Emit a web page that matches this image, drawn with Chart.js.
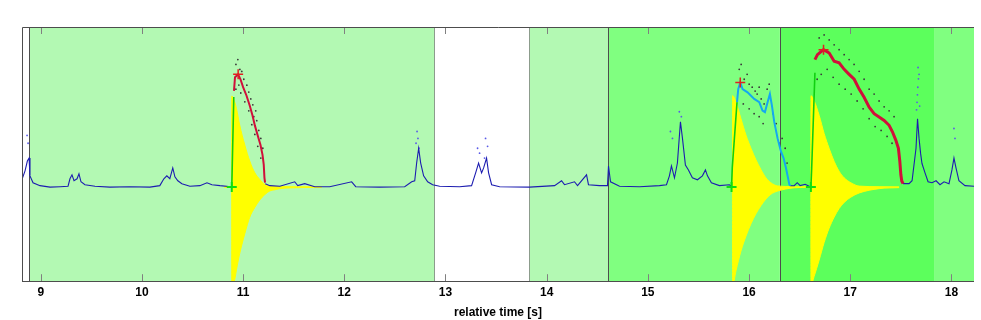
<!DOCTYPE html>
<html>
<head>
<meta charset="utf-8">
<script src="https://cdn.jsdelivr.net/npm/chart.js@4.4.1/dist/chart.umd.min.js"></script>
<style>
  html, body { margin: 0; padding: 0; background: #fff; }
  #wrap { width: 981px; height: 320px; }
</style>
</head>
<body>
<div id="wrap"><canvas id="chart1"></canvas></div>
<script>
// time window [s]
const xMin = 8.815;
const xMax = 18.223;

// phase shading: start / end time and level (0 none, 1 light, 2 mid, 3 strong)
const regionStart = [8.887, 13.827, 14.607, 16.301, 17.828];
const regionEnd = [12.889, 14.607, 16.301, 17.828, 18.223];
const regionLevel = [1, 1, 2, 3, 2];
const boundaryTimes = [8.887, 12.889, 13.827, 14.607, 16.301];
const boundaryKind = [0, 1, 1, 0, 0];

// blue trace (null = gap under an event trace)
const blueT = [
  8.796, 8.845, 8.868, 8.885, 8.894, 8.924, 8.993, 9.092, 9.191, 9.27,
  9.289, 9.309, 9.329, 9.359, 9.378, 9.398, 9.437, 9.536, 9.684, 9.881,
  10.079, 10.177, 10.217, 10.246, 10.276, 10.305, 10.326, 10.355, 10.395, 10.474,
  10.573, 10.643, 10.692, 10.771, 10.880,
  11.05,
  11.219, 11.264, 11.363, 11.510, 11.540, 11.609, 11.708, 11.856, 12.073, 12.113,
  12.350, 12.597, 12.666, 12.696, 12.715, 12.735, 12.755, 12.784, 12.824, 12.873,
  12.942, 13.140, 13.258, 13.298, 13.327, 13.357, 13.377, 13.406, 13.426, 13.456,
  13.535, 13.831, 14.078, 14.147, 14.176, 14.275, 14.305, 14.394, 14.413, 14.522,
  14.601, 14.611, 14.631, 14.720, 14.917, 15.115, 15.184, 15.213, 15.233, 15.263,
  15.292, 15.322, 15.342, 15.371, 15.401, 15.440, 15.490, 15.539, 15.569, 15.589,
  15.628, 15.707, 15.806, 15.826,
  16.1,
  16.407, 16.446, 16.476, 16.505, 16.555, 16.604,
  17.0,
  17.522, 17.581, 17.611, 17.650, 17.665, 17.680, 17.695, 17.709, 17.739, 17.769,
  17.808, 17.848, 17.887, 17.927, 17.976, 18.005, 18.025, 18.045, 18.074, 18.134,
  18.223
];
const blueV = [
  0.025, 0.172, 0.276, 0.308, 0.119, 0.046, 0.015, -0.001, 0.004, 0.009,
  0.088, 0.130, 0.067, 0.088, 0.140, 0.056, 0.025, 0.009, -0.001, 0.004,
  -0.001, 0.015, 0.088, 0.119, 0.088, 0.203, 0.109, 0.067, 0.036, 0.009,
  0.015, 0.046, 0.025, 0.015, 0.004,
  null,
  0.036, 0.015, 0.009, 0.056, 0.015, 0.036, 0.004, 0.004, 0.056, 0.004,
  -0.001, 0.004, 0.056, 0.067, 0.255, 0.412, 0.255, 0.119, 0.056, 0.025,
  0.009, 0.004, 0.015, 0.151, 0.255, 0.151, 0.203, 0.308, 0.151, 0.025,
  0.004, -0.001, 0.015, 0.067, 0.025, 0.056, 0.015, 0.130, 0.025, 0.015,
  0.015, 0.224, 0.056, 0.009, 0.004, 0.015, 0.025, 0.119, 0.224, 0.098,
  0.255, 0.694, 0.517, 0.234, 0.182, 0.098, 0.077, 0.119, 0.182, 0.119,
  0.046, 0.015, 0.025, 0.004,
  null,
  0.014, 0.015, 0.046, 0.015, 0.030, 0.004,
  null,
  0.036, 0.036, 0.067, 0.412, 0.726, 0.517, 0.360, 0.250, 0.151, 0.056,
  0.046, 0.067, 0.025, 0.056, 0.036, 0.182, 0.308, 0.203, 0.067, 0.015,
  0.009
];

// sparse light-blue spike tips
const spikeT = [
  8.865, 8.875, 12.709, 12.719, 12.728, 12.738, 13.317, 13.337, 13.386, 13.396, 13.416,
  15.223, 15.243, 15.311, 15.331, 17.655, 17.660, 17.664, 17.668, 17.670, 17.674, 17.680, 17.686,
  18.025, 18.035
];
const spikeV = [
  0.548, 0.465, 0.465, 0.590, 0.517, 0.412, 0.412, 0.360, 0.308, 0.517, 0.433,
  0.590, 0.517, 0.800, 0.747, 0.820, 0.900, 0.980, 1.060, 1.270, 1.150, 1.197, 0.860,
  0.622, 0.517
];

// event traces
const red1T = [10.910, 10.920, 10.951, 10.974, 11.000, 11.034, 11.066, 11.093, 11.116, 11.148, 11.172, 11.192, 11.204, 11.211, 11.217];
const red1V = [1.022, 1.166, 1.197, 1.145, 1.061, 0.970, 0.864, 0.760, 0.655, 0.534, 0.446, 0.342, 0.238, 0.098, 0.046];
const cyanT = [15.881, 15.893, 15.913, 15.936, 15.985, 16.051, 16.101, 16.133, 16.157, 16.183, 16.206, 16.226, 16.249, 16.282, 16.315, 16.341, 16.365, 16.388, 16.398, 16.407];
const cyanV = [0.901, 1.040, 1.110, 1.040, 1.006, 0.936, 0.901, 0.813, 0.796, 0.901, 0.988, 0.865, 0.692, 0.517, 0.378, 0.308, 0.203, 0.081, 0.028, 0.014];
const red3T = [16.651, 16.676, 16.736, 16.792, 16.841, 16.890, 16.940, 16.989, 17.039, 17.088, 17.137, 17.187, 17.236, 17.285, 17.335, 17.384, 17.417, 17.450, 17.476, 17.490, 17.500, 17.509, 17.522];
const red3V = [1.354, 1.406, 1.459, 1.424, 1.336, 1.320, 1.250, 1.197, 1.145, 1.040, 0.953, 0.849, 0.779, 0.744, 0.708, 0.656, 0.587, 0.499, 0.412, 0.273, 0.133, 0.064, 0.036];

// onset rises
const riseT = [10.888, 10.908, 11.5, 15.827, 15.834, 15.881, 16.2, 16.611, 16.619, 16.651];
const riseV = [-0.006, 0.956, null, -0.006, 0.203, 0.901, null, -0.006, 0.203, 1.215];
const onsetT = [10.888, 15.827, 16.611];
const onsetV = [0, 0, 0];
const peakT = [10.951, 15.913, 16.736];
const peakV = [1.197, 1.110, 1.459];

// oscillation envelopes
const env1T = [10.816, 10.887, 10.888, 10.918, 10.935, 10.967, 11.017, 11.066, 11.116, 11.165, 11.215, 11.264, 11.313, 11.363, 11.560, 11.777];
const env1Up = [0.004, 0.004, 0.966, 0.900, 0.831, 0.656, 0.446, 0.276, 0.151, 0.081, 0.028, 0.012, 0.007, 0.005, 0.003, 0.002];
const env1Lo = [-0.004, -0.004, -1.05, -0.98, -0.875, -0.704, -0.495, -0.320, -0.216, -0.137, -0.080, -0.041, -0.029, -0.017, -0.006, -0.002];
const env2T = [15.836, 15.837, 15.871, 15.920, 15.970, 16.019, 16.068, 16.118, 16.167, 16.216, 16.282, 16.446, 16.604];
const env2Up = [0, 0.970, 0.901, 0.726, 0.551, 0.412, 0.290, 0.185, 0.098, 0.046, 0.012, 0.004, 0.002];
const env2Lo = [0, -1.05, -0.889, -0.68, -0.52, -0.39, -0.284, -0.197, -0.127, -0.076, -0.043, -0.008, -0.002];
const env3T = [16.610, 16.612, 16.643, 16.693, 16.742, 16.791, 16.841, 16.890, 16.940, 17.006, 17.088, 17.285, 17.483];
const env3Up = [0, 0.970, 0.918, 0.761, 0.569, 0.412, 0.273, 0.168, 0.098, 0.046, 0.010, 0.004, 0.002];
const env3Lo = [0, -1.05, -0.95, -0.775, -0.589, -0.438, -0.32, -0.228, -0.163, -0.107, -0.063, -0.017, -0.006];

// raw samples scattered around the event traces
const rawT = [
  10.929, 10.948, 10.968, 10.987, 10.958, 11.007, 11.037, 11.056, 11.076, 11.096, 11.106, 11.125,
  11.135, 11.155, 11.175, 11.195, 10.929, 10.977, 11.017, 11.056, 11.086, 11.116, 11.145, 11.175,
  15.903, 15.922, 15.952, 15.981, 16.001, 16.031, 16.060, 16.080, 16.100, 16.120, 16.149, 15.943,
  16.001, 16.050, 16.100, 16.139, 16.179, 16.199, 16.238, 16.268, 16.297, 16.327, 16.357, 16.376,
  16.693, 16.742, 16.792, 16.841, 16.890, 16.940, 16.989, 17.038, 17.088, 17.137, 17.187, 17.236,
  17.285, 17.335, 17.384, 17.433, 16.713, 16.772, 16.831, 16.890, 16.950, 17.009, 17.068, 17.127,
  17.187, 17.246, 17.305, 17.364, 17.413, 16.673
];
const rawV = [
  1.302, 1.354, 1.249, 1.228, 1.083, 1.145, 1.082, 1.009, 0.936, 0.873, 0.747, 0.810,
  0.705, 0.601, 0.517, 0.412, 1.040, 0.999, 0.905, 0.810, 0.663, 0.559, 0.433, 0.308,
  1.250, 1.302, 1.145, 1.197, 1.093, 1.061, 1.019, 0.988, 1.061, 0.936, 0.883, 0.883,
  0.831, 0.779, 0.747, 0.674, 1.040, 1.093, 0.779, 0.674, 0.465, 0.517, 0.412, 0.255,
  1.584, 1.616, 1.563, 1.511, 1.459, 1.406, 1.354, 1.302, 1.229, 1.145, 1.040, 0.988,
  0.914, 0.852, 0.810, 0.747, 1.197, 1.250, 1.166, 1.093, 1.040, 0.988, 0.914, 0.831,
  0.726, 0.642, 0.601, 0.538, 0.465, 1.145
];

const shade = ["rgba(0,0,0,0)", "#b3f9b3", "#80ff80", "#5cff5c"];
const boundaryColor = ["#4d4d4d", "#8c9c8c"];
const axisFont = { family: "'Liberation Sans', Arial, sans-serif", size: 12, weight: "bold" };

const xy = (ts, vs) => ts.map((t, i) => ({ x: t, y: vs[i] }));

const phases = {
  id: "phases",
  beforeDatasetsDraw(chart) {
    const { ctx, chartArea: a, scales: { x } } = chart;
    ctx.save();
    regionStart.forEach((s, i) => {
      const x0 = x.getPixelForValue(s);
      const x1 = x.getPixelForValue(regionEnd[i]);
      ctx.fillStyle = shade[regionLevel[i]];
      ctx.fillRect(x0, a.top, x1 - x0, a.bottom - a.top);
    });
    ctx.lineWidth = 1;
    boundaryTimes.forEach((t, i) => {
      const px = Math.round(x.getPixelForValue(t)) + 0.5;
      ctx.strokeStyle = boundaryColor[boundaryKind[i]];
      ctx.beginPath();
      ctx.moveTo(px, a.top);
      ctx.lineTo(px, a.bottom);
      ctx.stroke();
    });
    ctx.restore();
  },
  afterDatasetsDraw(chart) {
    const { ctx, chartArea: a, scales: { x } } = chart;
    ctx.save();
    ctx.lineWidth = 1;
    ctx.strokeStyle = "#808080";
    x.ticks.forEach((tk) => {
      const px = Math.round(x.getPixelForValue(tk.value)) + 0.5;
      ctx.beginPath();
      ctx.moveTo(px, a.top);
      ctx.lineTo(px, a.top + 7);
      ctx.moveTo(px, a.bottom);
      ctx.lineTo(px, a.bottom - 7);
      ctx.stroke();
    });
    ctx.strokeStyle = "#4d4d4d";
    ctx.beginPath();
    ctx.moveTo(Math.round(a.left) + 0.5, Math.round(a.bottom) + 0.5);
    ctx.lineTo(Math.round(a.left) + 0.5, Math.round(a.top) + 0.5);
    ctx.lineTo(Math.round(a.right), Math.round(a.top) + 0.5);
    ctx.moveTo(Math.round(a.left), Math.round(a.bottom) + 0.5);
    ctx.lineTo(Math.round(a.right), Math.round(a.bottom) + 0.5);
    ctx.stroke();
    ctx.restore();
  },
};

const envelope = (ts, vs) => ({
  data: xy(ts, vs),
  borderColor: "#ffff00",
  backgroundColor: "#ffff00",
  borderWidth: 1,
  pointRadius: 0,
  fill: "origin",
  cubicInterpolationMode: "monotone",
  order: 6,
});

const trace = (ts, vs, color, width, order) => ({
  data: xy(ts, vs),
  borderColor: color,
  borderWidth: width,
  pointRadius: 0,
  fill: false,
  spanGaps: false,
  order: order,
});

const dots = (ts, vs, color, r, order) => ({
  data: xy(ts, vs),
  showLine: false,
  pointRadius: r,
  pointBorderWidth: 0,
  pointBackgroundColor: color,
  order: order,
});

const ctx = document.getElementById("chart1");
const myChart = new Chart(ctx, {
  type: "line",
  data: {
    datasets: [
      envelope(env1T, env1Up),
      envelope(env1T, env1Lo),
      envelope(env2T, env2Up),
      envelope(env2T, env2Lo),
      envelope(env3T, env3Up),
      envelope(env3T, env3Lo),
      dots(spikeT, spikeV, "#5a5ae8", 0.9, 5),
      trace(blueT, blueV, "#1c1cb0", 1.1, 4),
      dots(rawT, rawV, "#3a3a3a", 0.9, 3),
      trace(red1T, red1V, "#d0103a", 2, 2),
      trace(cyanT, cyanV, "#14a8f0", 2, 2),
      trace(red3T, red3V, "#d0103a", 3, 2),
      trace(riseT, riseV, "#10d010", 1.6, 1),
      {
        data: xy(onsetT, onsetV),
        showLine: false,
        pointStyle: "cross",
        pointRadius: 5,
        pointBorderWidth: 2,
        pointBorderColor: "#10e010",
        order: 0,
      },
      {
        data: xy(peakT, peakV),
        showLine: false,
        pointStyle: "cross",
        pointRadius: 5,
        pointBorderWidth: 1.5,
        pointBorderColor: "#e02020",
        order: 0,
      },
    ],
  },
  options: {
    responsive: true,
    maintainAspectRatio: false,
    animation: false,
    layout: { padding: { left: 22, right: 6, top: 27, bottom: 0 } },
    plugins: {
      legend: { display: false },
      tooltip: { enabled: false },
    },
    scales: {
      x: {
        type: "linear",
        min: xMin,
        max: xMax,
        grid: { display: false, drawTicks: false },
        border: { display: false },
        ticks: {
          stepSize: 1,
          includeBounds: false,
          padding: 4,
          maxRotation: 0,
          color: "#000",
          font: axisFont,
        },
        title: {
          display: true,
          text: "relative time [s]",
          color: "#000",
          font: axisFont,
          padding: { top: 2, bottom: 0 },
        },
      },
      y: { display: false, min: -1, max: 1.7 },
    },
  },
  plugins: [phases],
});
</script>
</body>
</html>
